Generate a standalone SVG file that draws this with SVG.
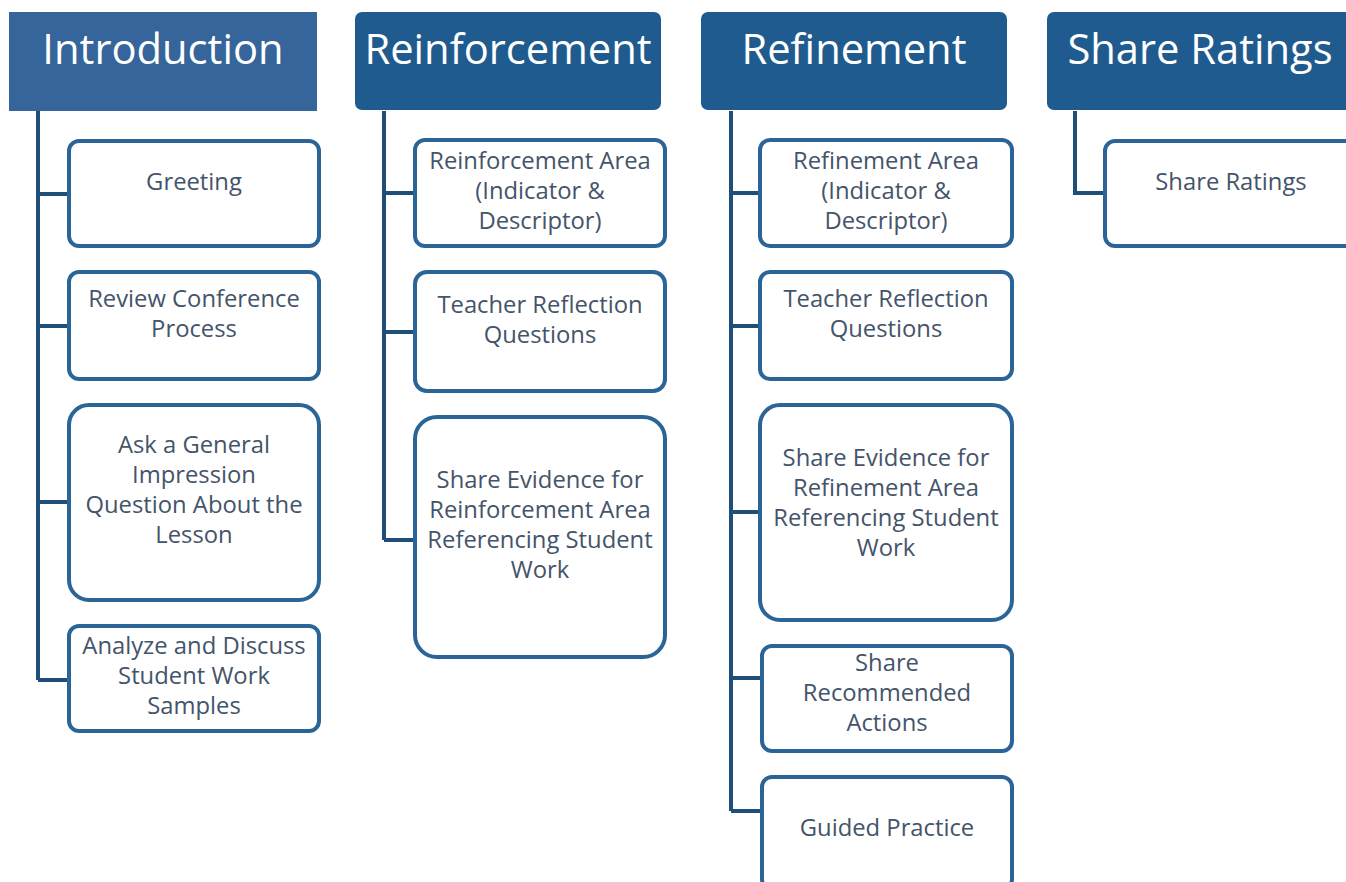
<svg xmlns="http://www.w3.org/2000/svg" width="1346" height="882" viewBox="0 0 1346 882">
<style>
.hdr{fill:#1f5b8e}
.hdr0{fill:#35659a}
.ht{font-family:"Open Sans","Noto Sans",sans-serif;font-size:41.7px;fill:#ffffff;text-anchor:middle}
.box{fill:#ffffff;stroke:#2b6497;stroke-width:4}
.bt{font-family:"Open Sans","Noto Sans",sans-serif;font-size:23.8px;fill:#44546a;text-anchor:middle}
.con{fill:none;stroke:#1f4e79;stroke-width:4;stroke-linejoin:miter}
</style>
<rect width="1346" height="882" fill="#ffffff"/>
<g id="connectors">
<path class="con" d="M38 111 V680 M38 194 H69 M38 326 H69 M38 502 H69 M38 680 H69"/>
<path class="con" d="M384 111 V540 M384 193 H415 M384 332 H415 M384 540 H415"/>
<path class="con" d="M731 111 V811 M731 193 H760 M731 326 H760 M731 512 H760 M731 678 H760 M731 811 H762"/>
<path class="con" d="M1075 111 V193 H1105"/>
</g>
<g id="h-introduction"><rect class="hdr0" x="9" y="12" width="308" height="99"/><text class="ht" x="163" y="64">Introduction</text></g>
<g id="h-reinforcement"><rect class="hdr" x="355" y="12" width="306" height="98" rx="7"/><text class="ht" x="508" y="64">Reinforcement</text></g>
<g id="h-refinement"><rect class="hdr" x="701" y="12" width="306" height="98" rx="7"/><text class="ht" x="854" y="64">Refinement</text></g>
<g id="h-share-ratings"><rect class="hdr" x="1047" y="12" width="306" height="98" rx="7"/><text class="ht" x="1200" y="64">Share Ratings</text></g>

<g id="n-greeting"><rect class="box" x="69" y="141" width="250" height="105" rx="10"/><text class="bt" x="194" y="190">Greeting</text></g>
<g id="n-review"><rect class="box" x="69" y="272" width="250" height="107" rx="10"/><text class="bt" x="194" y="307">Review Conference</text><text class="bt" x="194" y="337">Process</text></g>
<g id="n-ask"><rect class="box" x="69" y="405" width="250" height="195" rx="20"/><text class="bt" x="194" y="453">Ask a General</text><text class="bt" x="194" y="483">Impression</text><text class="bt" x="194" y="513">Question About the</text><text class="bt" x="194" y="543">Lesson</text></g>
<g id="n-analyze"><rect class="box" x="69" y="626" width="250" height="105" rx="10"/><text class="bt" x="194" y="654">Analyze and Discuss</text><text class="bt" x="194" y="684">Student Work</text><text class="bt" x="194" y="714">Samples</text></g>

<g id="n-reinf-area"><rect class="box" x="415" y="140" width="250" height="106" rx="10"/><text class="bt" x="540" y="169">Reinforcement Area</text><text class="bt" x="540" y="199">(Indicator &amp;</text><text class="bt" x="540" y="229">Descriptor)</text></g>
<g id="n-reinf-teacher"><rect class="box" x="415" y="272" width="250" height="119" rx="12"/><text class="bt" x="540" y="313">Teacher Reflection</text><text class="bt" x="540" y="343">Questions</text></g>
<g id="n-reinf-evidence"><rect class="box" x="415" y="417" width="250" height="240" rx="22"/><text class="bt" x="540" y="488">Share Evidence for</text><text class="bt" x="540" y="518">Reinforcement Area</text><text class="bt" x="540" y="548">Referencing Student</text><text class="bt" x="540" y="578">Work</text></g>

<g id="n-ref-area"><rect class="box" x="760" y="140" width="252" height="106" rx="10"/><text class="bt" x="886" y="169">Refinement Area</text><text class="bt" x="886" y="199">(Indicator &amp;</text><text class="bt" x="886" y="229">Descriptor)</text></g>
<g id="n-ref-teacher"><rect class="box" x="760" y="272" width="252" height="107" rx="10"/><text class="bt" x="886" y="307">Teacher Reflection</text><text class="bt" x="886" y="337">Questions</text></g>
<g id="n-ref-evidence"><rect class="box" x="760" y="405" width="252" height="215" rx="20"/><text class="bt" x="886" y="466">Share Evidence for</text><text class="bt" x="886" y="496">Refinement Area</text><text class="bt" x="886" y="526">Referencing Student</text><text class="bt" x="886" y="556">Work</text></g>
<g id="n-ref-actions"><rect class="box" x="762" y="646" width="250" height="105" rx="10"/><text class="bt" x="887" y="671">Share</text><text class="bt" x="887" y="701">Recommended</text><text class="bt" x="887" y="731">Actions</text></g>
<g id="n-ref-guided"><rect class="box" x="762" y="777" width="250" height="112" rx="10"/><text class="bt" x="887" y="836">Guided Practice</text></g>

<g id="n-share-ratings"><rect class="box" x="1105" y="141" width="252" height="105" rx="10"/><text class="bt" x="1231" y="190">Share Ratings</text></g>
</svg>
